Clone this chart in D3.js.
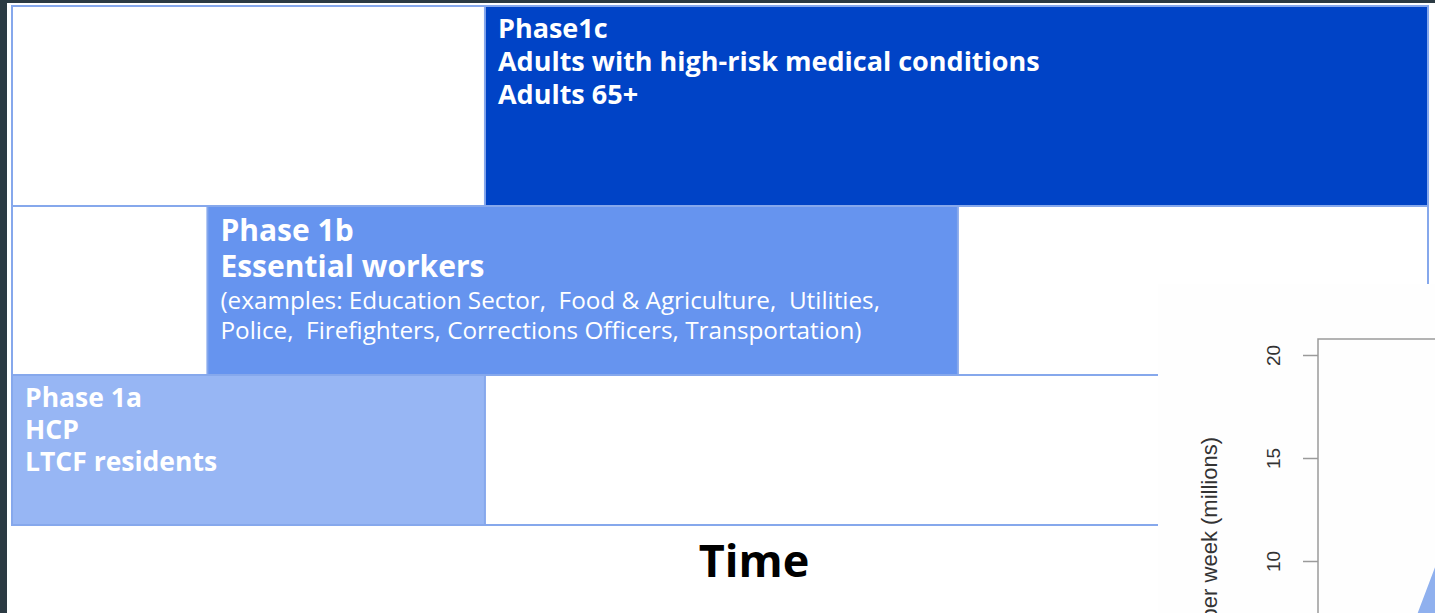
<!DOCTYPE html>
<html>
<head>
<meta charset="utf-8">
<script src="https://cdn.jsdelivr.net/npm/d3@7"></script>
<style>
html, body { margin: 0; padding: 0; background: #2b3a43; }
svg { display: block; }
</style>
</head>
<body>
<svg id="chart"></svg>
<script>
// ---- data ----
const phases = ["Phase1c", "Phase 1b", "Phase 1a"];
const phaseStart = [33.4, 13.8, 0];     // share of the time axis (%)
const phaseEnd = [100, 66.8, 33.4];
const phaseGroups = [
  ["Adults with high-risk medical conditions", "Adults 65+"],
  ["Essential workers"],
  ["HCP", "LTCF residents"]
];
const phaseNotes = [
  [],
  ["(examples: Education Sector,  Food & Agriculture,  Utilities,",
   "Police,  Firefighters, Corrections Officers, Transportation)"],
  []
];
const phaseColors = ["#0043c6", "#6694ef", "#97b6f4"];

// inset plot (doses per week)
const weeks = [0, 1, 2, 3, 4];
const doses = [0, 2.0, 5.2, 9.7, 13];
const doseTicks = [10, 15, 20];

// ---- layout ----
const W = 1435, H = 613;
const svg = d3.select('#chart').attr('width', W).attr('height', H);

svg.append('rect').attr('x', 7).attr('y', 3).attr('width', W - 7).attr('height', H - 3).attr('fill', '#ffffff');

const x = d3.scaleLinear().domain([0, 100]).range([12, 1428]);
const rowEdges = [6, 206, 375, 525];
const border = '#86a8ec';

const g = svg.append('g').attr('class', 'phases');

// full-width row outlines
g.selectAll('rect.row').data(phases).enter().append('rect')
  .attr('class', 'row')
  .attr('x', x(0)).attr('width', x(100) - x(0))
  .attr('y', (d, i) => rowEdges[i]).attr('height', (d, i) => rowEdges[i + 1] - rowEdges[i])
  .attr('fill', '#fff').attr('stroke', border).attr('stroke-width', 2);

// phase bars
g.selectAll('rect.phase').data(phases).enter().append('rect')
  .attr('class', 'phase')
  .attr('x', (d, i) => x(phaseStart[i]))
  .attr('width', (d, i) => x(phaseEnd[i]) - x(phaseStart[i]))
  .attr('y', (d, i) => rowEdges[i]).attr('height', (d, i) => rowEdges[i + 1] - rowEdges[i])
  .attr('fill', (d, i) => phaseColors[i]).attr('stroke', border).attr('stroke-width', 2);

const titleSize = [27, 30, 26.5];
const lineGap = [33, 36, 32];
const firstBase = [32, 35, 32];

phases.forEach((p, i) => {
  const tx = x(phaseStart[i]) + 13;
  let ty = rowEdges[i] + firstBase[i];
  const t = g.append('g').attr('fill', '#fff').style('font-family', '"Open Sans", sans-serif');
  [p].concat(phaseGroups[i]).forEach(line => {
    t.append('text').attr('x', tx).attr('y', ty).attr('font-weight', 700)
      .attr('font-size', titleSize[i]).text(line);
    ty += lineGap[i];
  });
  ty -= 4;
  phaseNotes[i].forEach(line => {
    t.append('text').attr('x', tx).attr('y', ty).attr('font-weight', 400)
      .attr('font-size', 24.3).style('white-space', 'pre').text(line);
    ty += 30;
  });
});

svg.append('text').attr('x', 754).attr('y', 577).attr('text-anchor', 'middle')
  .attr('font-family', '"Open Sans", sans-serif').attr('font-weight', 700)
  .attr('font-size', 45).attr('fill', '#000').text('Time');

// ---- inset: doses per week ----
const inset = svg.append('g').attr('class', 'inset');
inset.append('rect').attr('x', 1158).attr('y', 284).attr('width', W - 1158).attr('height', H - 284).attr('fill', '#fefefe');

const y = d3.scaleLinear().domain([10, 20]).range([561, 355]);
const xi = d3.scaleLinear().domain([0, 4]).range([1330, 1470]);

const clip = svg.append('clipPath').attr('id', 'plotClip');
clip.append('rect').attr('x', 1318).attr('y', 339).attr('width', W - 1318).attr('height', H - 339);

inset.append('path')
  .datum(weeks.map((w, i) => [w, doses[i]]))
  .attr('clip-path', 'url(#plotClip)')
  .attr('fill', '#8fb0ee')
  .attr('d', d3.area().x(d => xi(d[0])).y0(y(0)).y1(d => y(d[1])));

inset.append('path').attr('fill', 'none').attr('stroke', '#9a9a9a').attr('stroke-width', 1.5)
  .attr('d', `M${W + 2},339H1318V${H + 2}`);

const yAxis = inset.append('g').attr('transform', 'translate(1318,0)')
  .call(d3.axisLeft(y).tickValues(doseTicks).tickSize(15).tickFormat(d3.format('d')));
yAxis.select('.domain').remove();
yAxis.selectAll('.tick line').attr('stroke', '#9a9a9a').attr('stroke-width', 1.5);
yAxis.selectAll('.tick text')
  .attr('transform', 'rotate(-90)').attr('x', 0).attr('y', -45).attr('dy', '0.35em')
  .attr('text-anchor', 'middle')
  .attr('font-family', '"Liberation Sans", Arial, sans-serif').attr('font-size', 19).attr('fill', '#333');

inset.append('text')
  .attr('transform', 'translate(1217,437) rotate(-90)')
  .attr('text-anchor', 'end')
  .attr('font-family', '"Liberation Sans", Arial, sans-serif').attr('font-size', 22).attr('fill', '#333')
  .text('Doses per week (millions)');
</script>
</body>
</html>
